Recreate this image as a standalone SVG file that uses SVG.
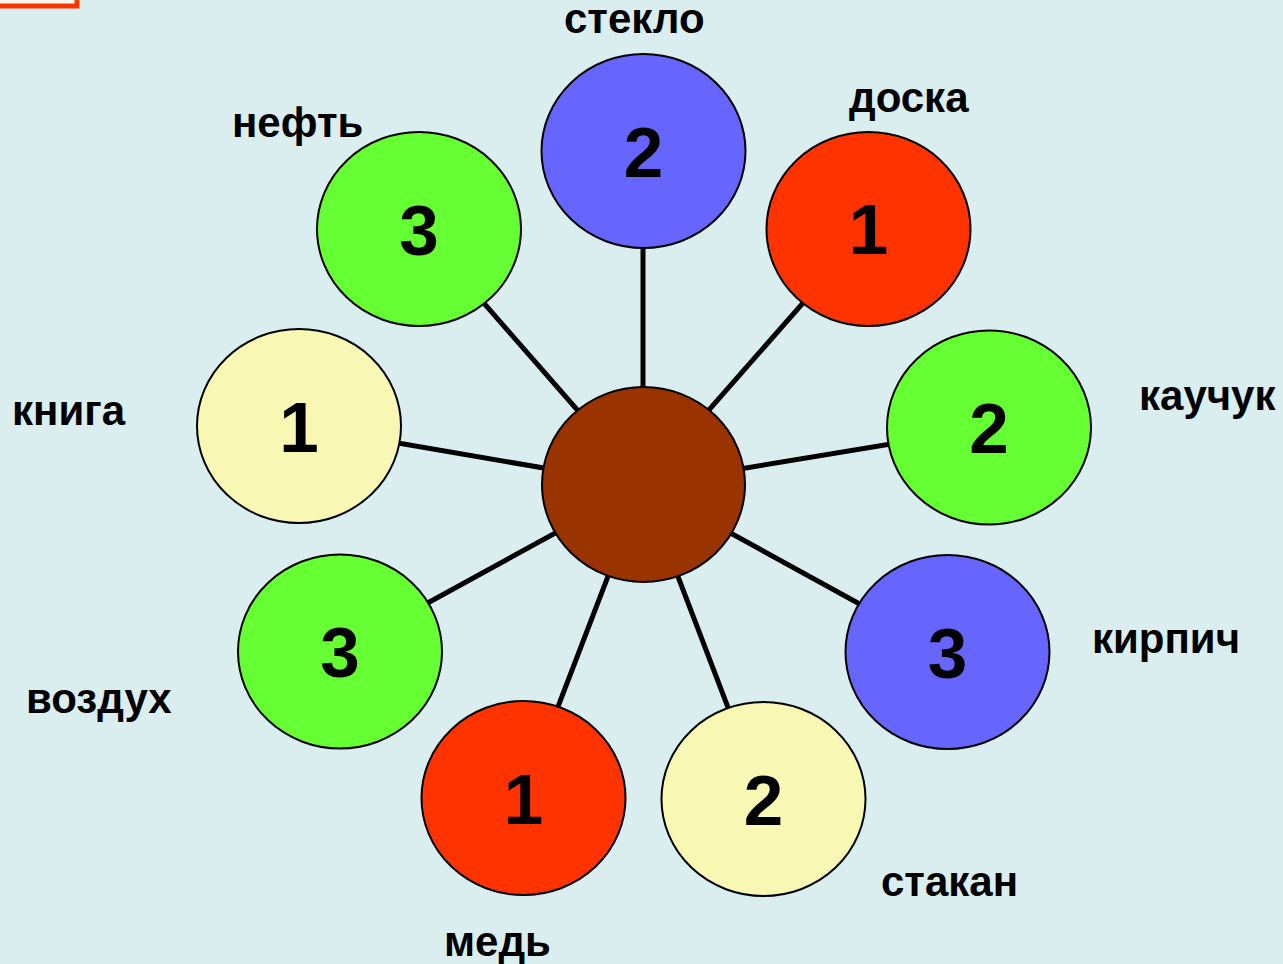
<svg xmlns="http://www.w3.org/2000/svg" width="1283" height="964" viewBox="0 0 1283 964">
<style>
.bg{fill:#DAEEF0}
.node{stroke:#000;stroke-width:2}
.blue{fill:#6666FF}
.red{fill:#FF3300}
.green{fill:#66FF33}
.yellow{fill:#F8F8B4}
.brown{fill:#993300}
.num{font-family:"Liberation Sans",Arial,sans-serif;font-weight:bold;font-size:71px;text-anchor:middle;fill:#000}
.lbl{font-family:"Liberation Sans",Arial,sans-serif;font-weight:bold;font-size:42px;fill:#000}
#connectors line{stroke:#000;stroke-width:5}
</style>
<rect class="bg" x="0" y="0" width="1283" height="964"/>
<rect x="-10" y="-10" width="87" height="16" fill="#FDF6EE" stroke="#FF3300" stroke-width="5"/>
<g id="connectors">
<line x1="643" y1="485" x2="643" y2="151"/>
<line x1="643" y1="485" x2="868" y2="229"/>
<line x1="643" y1="485" x2="988" y2="428"/>
<line x1="643" y1="485" x2="947" y2="652"/>
<line x1="643" y1="485" x2="763" y2="799"/>
<line x1="643" y1="485" x2="523" y2="798"/>
<line x1="643" y1="485" x2="340" y2="651"/>
<line x1="643" y1="485" x2="299" y2="426"/>
<line x1="643" y1="485" x2="419" y2="229"/>
</g>
<g id="center"><ellipse class="node brown" cx="643.5" cy="484.5" rx="101.5" ry="97.5"/></g>
<g id="steklo"><ellipse class="node blue" cx="643.5" cy="151" rx="102" ry="97"/><text class="num" x="643.5" y="177">2</text><text class="lbl" x="564" y="33">стекло</text></g>
<g id="doska"><ellipse class="node red" cx="868.5" cy="229" rx="102" ry="97"/><text class="num" x="868.5" y="254">1</text><text class="lbl" x="849" y="112">доска</text></g>
<g id="kauchuk"><ellipse class="node green" cx="989" cy="427.5" rx="102" ry="97"/><text class="num" x="989" y="453">2</text><text class="lbl" x="1139" y="410">каучук</text></g>
<g id="kirpich"><ellipse class="node blue" cx="947.5" cy="652" rx="102" ry="97"/><text class="num" x="947.5" y="678">3</text><text class="lbl" x="1092" y="653">кирпич</text></g>
<g id="stakan"><ellipse class="node yellow" cx="763.5" cy="799" rx="102" ry="97"/><text class="num" x="763.5" y="825">2</text><text class="lbl" x="881" y="896">стакан</text></g>
<g id="med"><ellipse class="node red" cx="523.5" cy="798" rx="102" ry="97"/><text class="num" x="523.5" y="824">1</text><text class="lbl" x="444" y="956">медь</text></g>
<g id="vozduh"><ellipse class="node green" cx="340" cy="651.5" rx="102" ry="97"/><text class="num" x="340" y="677">3</text><text class="lbl" x="26" y="713">воздух</text></g>
<g id="kniga"><ellipse class="node yellow" cx="299" cy="426" rx="102" ry="97"/><text class="num" x="299" y="452">1</text><text class="lbl" x="12" y="425">книга</text></g>
<g id="neft"><ellipse class="node green" cx="419" cy="229" rx="102" ry="97"/><text class="num" x="419" y="255">3</text><text class="lbl" x="232" y="137">нефть</text></g>
</svg>
